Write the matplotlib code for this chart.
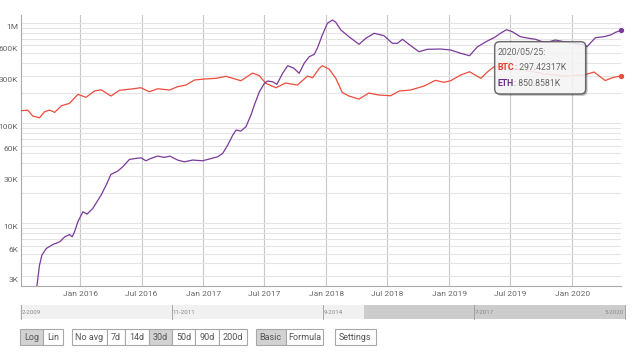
import pandas as pd
import matplotlib
matplotlib.use("Agg")
import matplotlib.pyplot as plt
import matplotlib.transforms as mtransforms
from matplotlib.patches import Rectangle, FancyBboxPatch

plt.rcParams['font.family'] = ['Roboto', 'DejaVu Sans']

# BTC, 30d average (values in thousands)
btc_dates = ['2015-07-09', '2015-07-29', '2015-08-13', '2015-09-02', '2015-09-17', '2015-10-02',
             '2015-10-17', '2015-11-06', '2015-11-30', '2015-12-25', '2016-01-18', '2016-02-12',
             '2016-03-03', '2016-04-01', '2016-04-26', '2016-05-31', '2016-06-29', '2016-07-24',
             '2016-08-18', '2016-09-22', '2016-10-16', '2016-11-10', '2016-12-05', '2017-01-03',
             '2017-02-07', '2017-03-09', '2017-03-29', '2017-04-22', '2017-05-27', '2017-06-16',
             '2017-07-05', '2017-08-04', '2017-09-02', '2017-10-07', '2017-11-06', '2017-11-21',
             '2017-12-11', '2017-12-20', '2018-01-09', '2018-01-29', '2018-02-17', '2018-03-09',
             '2018-04-08', '2018-05-07', '2018-06-06', '2018-07-11', '2018-08-05', '2018-09-08',
             '2018-10-18', '2018-11-21', '2018-12-16', '2019-01-05', '2019-02-04', '2019-03-02',
             '2019-04-05', '2019-04-25', '2019-05-14', '2019-06-28', '2019-08-11', '2019-10-13',
             '2019-12-11', '2020-02-05', '2020-03-06', '2020-04-08', '2020-05-01', '2020-05-25']
btc_values = [133.7, 135.8, 118.3, 113.8, 130.6, 135.8,
              128.8, 150.0, 158.5, 195.0, 182.0, 210.4,
              216.8, 187.5, 213.8, 220.3, 227.0, 207.0,
              221.8, 215.3, 232.3, 241.5, 271.0, 277.3,
              281.8, 295.0, 281.8, 266.7, 318.4, 299.2,
              251.2, 227.0, 252.9, 241.5, 297.2, 285.8,
              354.8, 376.7, 349.1, 281.8, 204.2, 187.5,
              175.0, 200.9, 191.9, 188.8, 210.4, 215.3,
              236.0, 269.2, 257.0, 266.7, 304.0, 328.0,
              281.8, 328.0, 368.1, 357.3, 341.2, 311.2,
              297.2, 304.0, 325.8, 267.9, 287.1, 297.42317]

# ETH, 30d average (values in thousands)
eth_dates = ['2015-08-24', '2015-09-02', '2015-09-09', '2015-09-22', '2015-10-12', '2015-11-01',
             '2015-11-16', '2015-11-30', '2015-12-08', '2015-12-15', '2015-12-25', '2016-01-09',
             '2016-01-21', '2016-02-07', '2016-03-03', '2016-03-18', '2016-04-01', '2016-04-21',
             '2016-05-06', '2016-05-26', '2016-06-15', '2016-06-29', '2016-07-14', '2016-07-29',
             '2016-08-18', '2016-09-07', '2016-09-23', '2016-10-16', '2016-11-05', '2016-11-30',
             '2016-12-29', '2017-01-18', '2017-02-12', '2017-02-27', '2017-03-14', '2017-03-29',
             '2017-04-08', '2017-04-22', '2017-05-07', '2017-05-22', '2017-06-01', '2017-06-16',
             '2017-07-01', '2017-07-10', '2017-07-25', '2017-08-07', '2017-08-24', '2017-09-08',
             '2017-09-27', '2017-10-12', '2017-10-27', '2017-11-11', '2017-11-26', '2017-12-05',
             '2017-12-20', '2018-01-04', '2018-01-19', '2018-01-29', '2018-02-13', '2018-03-09',
             '2018-04-08', '2018-04-28', '2018-05-23', '2018-06-21', '2018-07-16', '2018-07-31',
             '2018-08-15', '2018-09-03', '2018-10-03', '2018-10-28', '2018-12-06', '2019-01-05',
             '2019-02-04', '2019-03-02', '2019-03-26', '2019-04-24', '2019-05-14', '2019-06-02',
             '2019-06-20', '2019-07-07', '2019-07-31', '2019-08-25', '2019-09-14', '2019-10-04',
             '2019-10-19', '2019-11-12', '2019-12-07', '2020-01-06', '2020-01-30', '2020-02-14',
             '2020-03-10', '2020-04-04', '2020-04-24', '2020-05-09', '2020-05-25']
eth_values = [2.2, 3.83, 4.82, 5.62, 6.17, 6.55,
              7.35, 7.76, 7.35, 8.24, 10.4, 13.1,
              12.4, 14.1, 19.2, 24.2, 30.9, 33.3,
              36.8, 43.6, 44.7, 45.3, 42.3, 44.7,
              47.1, 45.7, 47.1, 43.0, 41.3, 43.0,
              42.3, 44.0, 46.3, 50.1, 60.7, 76.4,
              85.7, 83.8, 92.5, 121.1, 152.4, 207.0,
              251.2, 264.9, 260.6, 245.5, 316.2, 376.7,
              354.8, 316.2, 398.1, 463.4, 489.8, 562.3,
              763.8, 1000.0, 1079.0, 1023.0, 857.0, 734.5,
              616.6, 707.9, 794.3, 751.6, 631.0, 631.0,
              691.8, 616.6, 520.0, 549.5, 553.3, 540.8,
              501.2, 474.2, 583.4, 665.3, 717.8, 794.3,
              863.0, 824.1, 734.5, 707.9, 691.8, 654.6,
              645.7, 680.8, 654.6, 631.0, 616.6, 583.4,
              717.8, 734.5, 763.8, 812.8, 850.8581]

y_ticks = [3e3, 4e3, 5e3, 6e3, 7e3, 8e3, 9e3,
           1e4, 2e4, 3e4, 4e4, 5e4, 6e4, 7e4, 8e4, 9e4,
           1e5, 2e5, 3e5, 4e5, 5e5, 6e5, 7e5, 8e5, 9e5, 1e6]
y_labels = ['3K', '', '', '6K', '', '', '',
            '10K', '', '30K', '', '', '60K', '', '', '',
            '100K', '', '300K', '', '', '600K', '', '', '', '1M']
x_ticks = ['2016-01-01', '2016-07-01', '2017-01-01', '2017-07-01', '2018-01-01',
           '2018-07-01', '2019-01-01', '2019-07-01', '2020-01-01']
x_labels = ['Jan 2016', 'Jul 2016', 'Jan 2017', 'Jul 2017', 'Jan 2018',
            'Jul 2018', 'Jan 2019', 'Jul 2019', 'Jan 2020']

range_labels = ['2-2009', '11-2011', '9-2014', '7-2017', '5-2020']
tooltip_date = '2020/05/25:'

W, H = 633, 352
btc_color = '#ec4c3c'
eth_color = '#7a3a9a'
txt_gray = '#666666'

fig = plt.figure(figsize=(W / 100, H / 100), dpi=100)
ax = fig.add_axes([21 / W, 1 - 285.7 / H, 600 / W, 270.7 / H])

bd = pd.to_datetime(btc_dates)
ed = pd.to_datetime(eth_dates)
bv = [v * 1000 for v in btc_values]
ev = [v * 1000 for v in eth_values]

ax.plot(bd, bv, color=btc_color, lw=0.9, zorder=3)
ax.plot(ed, ev, color=eth_color, lw=0.9, zorder=3)
ax.plot(bd[-1:], bv[-1:], 'o', color=btc_color, ms=2.8, clip_on=False, zorder=4)
ax.plot(ed[-1:], ev[-1:], 'o', color=eth_color, ms=2.8, clip_on=False, zorder=4)

ax.set_yscale('log')
ax.set_ylim(2388, 1.21e6)
ax.set_xlim(pd.Timestamp('2015-07-09'), pd.Timestamp('2020-05-25'))

ax.set_yticks(y_ticks)
ax.set_yticklabels(y_labels)
ax.minorticks_off()
ax.set_xticks(pd.to_datetime(x_ticks))
ax.set_xticklabels(x_labels)

ax.tick_params(axis='y', length=0, pad=2, labelsize=6, labelcolor=txt_gray)
ax.tick_params(axis='x', length=0, pad=4, labelsize=6, labelcolor=txt_gray)
offset = mtransforms.ScaledTranslation(0, -0.034, fig.dpi_scale_trans)
for lab in ax.get_yticklabels():
    lab.set_transform(lab.get_transform() + offset)

ax.grid(axis='y', color='#e4e4e4', lw=0.8)
ax.grid(axis='x', color='#c8c8c8', lw=0.8)
ax.set_axisbelow(True)
for s in ['top', 'right']:
    ax.spines[s].set_visible(False)
for s in ['left', 'bottom']:
    ax.spines[s].set_color('#aaaaaa')
    ax.spines[s].set_linewidth(0.8)

# overlay in pixel coordinates for tooltip, range bar and buttons
ov = fig.add_axes([0, 0, 1, 1])
ov.set_xlim(0, W)
ov.set_ylim(H, 0)
ov.axis('off')

# tooltip
ov.add_patch(FancyBboxPatch((496.5, 43.5), 91, 52.3, boxstyle='round,pad=0,rounding_size=5',
                            fc='#000000', ec='none', alpha=0.25, zorder=5))
ov.add_patch(FancyBboxPatch((494.7, 41.7), 91, 52.3, boxstyle='round,pad=0,rounding_size=5',
                            fc='white', ec='#555555', lw=1.1, alpha=0.85, zorder=6))
ov.text(498, 52.5, tooltip_date, fontsize=6.3, color=txt_gray, va='center', zorder=7)
t_btc = ov.text(498, 68, 'BTC', fontsize=6.3, color='#e53a2f', fontweight='bold',
                va='center', zorder=7)
ov.annotate(': %.5fK' % btc_values[-1], xy=(1, 0.5), xycoords=t_btc, fontsize=6.3,
            color=txt_gray, va='center', ha='left', zorder=7)
t_eth = ov.text(498, 83.5, 'ETH', fontsize=6.3, color='#6b2d8a', fontweight='bold',
                va='center', zorder=7)
ov.annotate(': %.4fK' % eth_values[-1], xy=(1, 0.5), xycoords=t_eth, fontsize=6.3,
            color=txt_gray, va='center', ha='left', zorder=7)

# range selector
ov.add_patch(Rectangle((20, 305), 343.7, 14.3, fc='#f1f1f1', ec='none'))
ov.add_patch(Rectangle((363.7, 305), 261, 14.3, fc='#cccccc', ec='none'))
range_x = [20.5, 171.7, 323, 473.7, 624.5]
for i, (rx, rl) in enumerate(zip(range_x, range_labels)):
    ov.plot([rx, rx], [305, 319.3], color='#999999', lw=0.6)
    if i < len(range_labels) - 1:
        ov.text(rx + 1, 313, rl, fontsize=4.4, color='#888888', va='center', ha='left')
    else:
        ov.text(rx - 1, 313, rl, fontsize=4.4, color='#888888', va='center', ha='right')

# buttons
buttons = [('Log', 20, 43.3, True), ('Lin', 43.3, 63.3, False),
           ('No avg', 71.7, 106.7, False), ('7d', 106.7, 125, False), ('14d', 125, 149, False),
           ('30d', 149, 172.3, True), ('50d', 172.3, 195, False), ('90d', 195, 219, False),
           ('200d', 219, 246.7, False),
           ('Basic', 255.7, 285.7, True), ('Formula', 285.7, 323, False),
           ('Settings', 334.7, 376.3, False)]
for name, x0, x1, active in buttons:
    ov.add_patch(Rectangle((x0, 328.7), x1 - x0, 16.3, fc='#d2d2d2' if active else 'white',
                           ec='#a8a8a8', lw=0.8))
    ov.text((x0 + x1) / 2, 337, name, fontsize=6.5, color='#555555', ha='center', va='center')

fig.savefig('out.png', dpi=100)
